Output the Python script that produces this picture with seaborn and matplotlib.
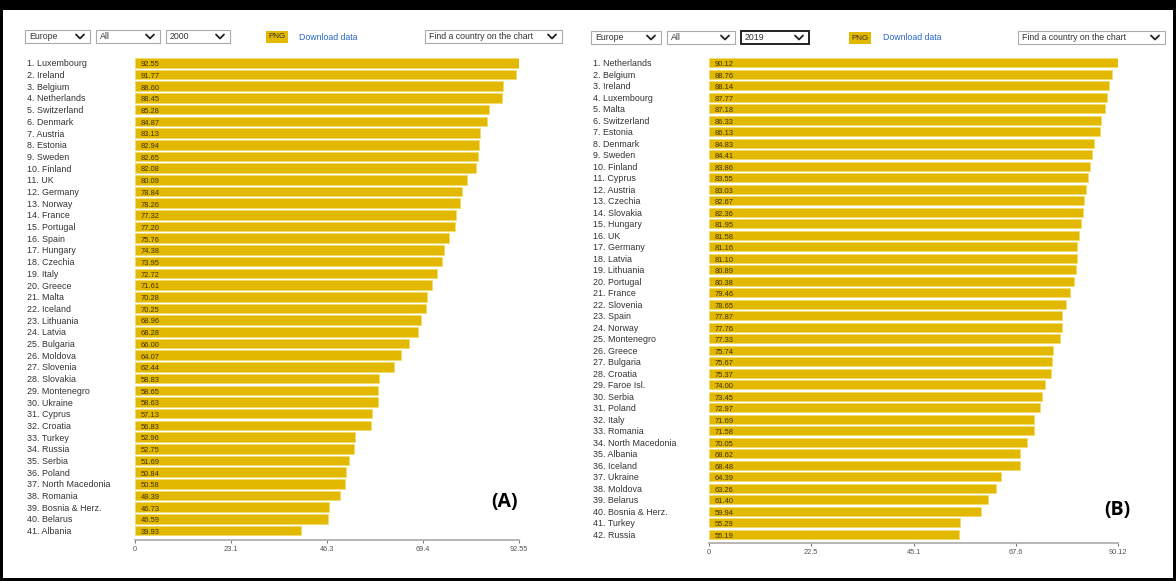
import matplotlib
matplotlib.use("Agg")
import matplotlib.pyplot as plt
import seaborn as sns
import pandas as pd
from matplotlib.lines import Line2D
from matplotlib.patches import Rectangle

# panel A, year 2000
countries_2000 = ["Luxembourg", "Ireland", "Belgium", "Netherlands", "Switzerland", "Denmark",
                  "Austria", "Estonia", "Sweden", "Finland", "UK", "Germany", "Norway", "France",
                  "Portugal", "Spain", "Hungary", "Czechia", "Italy", "Greece", "Malta", "Iceland",
                  "Lithuania", "Latvia", "Bulgaria", "Moldova", "Slovenia", "Slovakia", "Montenegro",
                  "Ukraine", "Cyprus", "Croatia", "Turkey", "Russia", "Serbia", "Poland",
                  "North Macedonia", "Romania", "Bosnia & Herz.", "Belarus", "Albania"]
values_2000 = [92.55, 91.77, 88.60, 88.45, 85.28, 84.87, 83.13, 82.94, 82.65, 82.08, 80.09, 78.84,
               78.26, 77.32, 77.20, 75.76, 74.38, 73.95, 72.72, 71.61, 70.28, 70.25, 68.96, 68.28,
               66.00, 64.07, 62.44, 58.83, 58.65, 58.63, 57.13, 56.83, 52.96, 52.75, 51.69, 50.84,
               50.58, 49.39, 46.73, 46.59, 39.93]
ticks_2000 = [0, 23.1, 46.3, 69.4, 92.55]

# panel B, year 2019
countries_2019 = ["Netherlands", "Belgium", "Ireland", "Luxembourg", "Malta", "Switzerland",
                  "Estonia", "Denmark", "Sweden", "Finland", "Cyprus", "Austria", "Czechia",
                  "Slovakia", "Hungary", "UK", "Germany", "Latvia", "Lithuania", "Portugal",
                  "France", "Slovenia", "Spain", "Norway", "Montenegro", "Greece", "Bulgaria",
                  "Croatia", "Faroe Isl.", "Serbia", "Poland", "Italy", "Romania",
                  "North Macedonia", "Albania", "Iceland", "Ukraine", "Moldova", "Belarus",
                  "Bosnia & Herz.", "Turkey", "Russia"]
values_2019 = [90.12, 88.76, 88.14, 87.77, 87.18, 86.33, 86.13, 84.83, 84.41, 83.86, 83.55, 83.03,
               82.67, 82.36, 81.95, 81.58, 81.16, 81.10, 80.89, 80.38, 79.46, 78.65, 77.87, 77.76,
               77.33, 75.74, 75.67, 75.37, 74.00, 73.45, 72.97, 71.69, 71.58, 70.05, 68.62, 68.48,
               64.39, 63.26, 61.40, 59.94, 55.29, 55.19]
ticks_2019 = [0, 22.5, 45.1, 67.6, 90.12]

sns.set_theme(style="white")
plt.rcParams["font.family"] = ["Liberation Sans", "DejaVu Sans"]

W, H = 1176, 581
fig = plt.figure(figsize=(W / 100, H / 100), dpi=100)
GOLD = "#E2B900"


def px(x, y, w, h):
    # pixel box (top-left origin) -> figure fraction
    return [x / W, 1 - (y + h) / H, w / W, h / H]


def dropdown(x, y, w, h, text, thick=False):
    fig.patches.append(Rectangle((x / W, 1 - (y + h) / H), w / W, h / H, transform=fig.transFigure,
                                 facecolor="white", edgecolor="#222" if thick else "#aaa",
                                 lw=1.4 if thick else 0.8))
    fig.text((x + 4) / W, 1 - (y + h / 2) / H, text, fontsize=6.3, va="center", color="#333")
    cx = x + w - 10
    cy = y + h / 2
    fig.lines.append(Line2D([(cx - 4) / W, cx / W, (cx + 4) / W],
                            [1 - (cy - 2) / H, 1 - (cy + 2) / H, 1 - (cy - 2) / H],
                            transform=fig.transFigure, color="#222", lw=1.3))


def panel(x0, x1, top, bottom, label_x, names, vals, ticks, letter, letter_xy, offset):
    ax = fig.add_axes(px(x0, top, x1 - x0, bottom - top))
    df = pd.DataFrame({"name": [f"{i + 1}. {n}" for i, n in enumerate(names)], "value": vals})
    sns.barplot(data=df, y="name", x="value", orient="h", color=GOLD, saturation=1,
                width=0.82, edgecolor="#f3dc6a", linewidth=0.6, ax=ax)
    n = len(vals)
    ax.set_ylim(n - 0.5 + offset, -0.5)
    ax.set_xlim(0, ticks[-1])
    ax.set_xticks(ticks)
    ax.set_xticklabels([f"{t:g}" for t in ticks])
    ax.set_xlabel("")
    ax.set_ylabel("")
    for s in ["top", "right", "left"]:
        ax.spines[s].set_visible(False)
    ax.spines["bottom"].set_color("#aaa")
    ax.spines["bottom"].set_linewidth(1.2)
    ax.tick_params(axis="x", length=2, width=0.8, color="#777", labelsize=5.3,
                   labelcolor="#555", pad=2, bottom=True)
    ax.tick_params(axis="y", length=0, labelsize=6.4, labelcolor="#333",
                   pad=(x0 - label_x) * 0.72)
    for lab in ax.get_yticklabels():
        lab.set_ha("left")
    for i, v in enumerate(vals):
        ax.annotate(f"{v:.2f}", (0, i), xytext=(4, -0.6), textcoords="offset points",
                    va="center_baseline", ha="left", fontsize=5.4, color="#3d3200")
    fig.text(letter_xy[0] / W, 1 - letter_xy[1] / H, letter, fontsize=14, fontweight="bold",
             family=["Open Sans", "DejaVu Sans"], ha="center", va="center", color="black")
    return ax


panel(135, 519, 57, 540, 27, countries_2000, values_2000, ticks_2000, "(A)", (505, 502), 0.3)
panel(709, 1118, 57, 543, 593, countries_2019, values_2019, ticks_2019, "(B)", (1117, 510), 0.26)

# top controls
dropdown(25, 30, 65, 13, "Europe")
dropdown(96, 30, 64, 13, "All")
dropdown(166, 30, 64, 13, "2000")
fig.text(277 / W, 1 - 37 / H, "PNG", fontsize=5.8, ha="center", va="center", color="#333",
         bbox=dict(boxstyle="square,pad=0.25", fc=GOLD, ec="none"))
fig.text(299 / W, 1 - 37 / H, "Download data", fontsize=6.3, va="center", color="#2a66c8")
dropdown(425, 30, 137, 13, "Find a country on the chart")

dropdown(591, 31, 70, 13, "Europe")
dropdown(667, 31, 68, 13, "All")
dropdown(741, 31, 68, 13, "2019", thick=True)
fig.text(860 / W, 1 - 38 / H, "PNG", fontsize=5.8, ha="center", va="center", color="#333",
         bbox=dict(boxstyle="square,pad=0.25", fc=GOLD, ec="none"))
fig.text(883 / W, 1 - 38 / H, "Download data", fontsize=6.3, va="center", color="#2a66c8")
dropdown(1018, 31, 147, 13, "Find a country on the chart")

# screenshot frame
fig.patches.append(Rectangle((0, 1 - 10 / H), 1, 10 / H, transform=fig.transFigure,
                             facecolor="black", edgecolor="none"))
fig.patches.append(Rectangle((0, 0), 3 / W, 1, transform=fig.transFigure,
                             facecolor="black", edgecolor="none"))
fig.patches.append(Rectangle((0, 0), 1, 3 / H, transform=fig.transFigure,
                             facecolor="black", edgecolor="none"))
fig.patches.append(Rectangle((1 - 3 / W, 0), 3 / W, 1, transform=fig.transFigure,
                             facecolor="black", edgecolor="none"))

fig.savefig("out.png", dpi=100)
